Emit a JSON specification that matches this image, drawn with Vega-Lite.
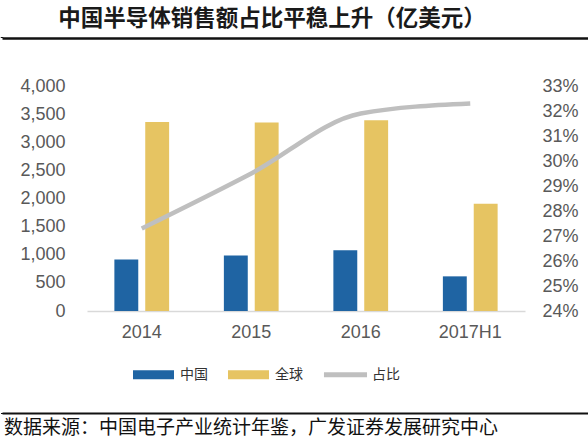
{
  "$schema": "https://vega.github.io/schema/vega-lite/v6.json",
  "background": "white",
  "padding": {"top": 7, "left": 0, "right": 0, "bottom": 0},
  "spacing": 30,
  "datasets": {
    "sales": [
      {"year": "2014", "series": "中国", "value": 917},
      {"year": "2014", "series": "全球", "value": 3358},
      {"year": "2015", "series": "中国", "value": 988},
      {"year": "2015", "series": "全球", "value": 3352},
      {"year": "2016", "series": "中国", "value": 1081},
      {"year": "2016", "series": "全球", "value": 3389},
      {"year": "2017H1", "series": "中国", "value": 616},
      {"year": "2017H1", "series": "全球", "value": 1906}
    ],
    "share": [
      {"year": "2014", "series": "占比", "share": 0.273},
      {"year": "2015", "series": "占比", "share": 0.295},
      {"year": "2016", "series": "占比", "share": 0.319},
      {"year": "2017H1", "series": "占比", "share": 0.323}
    ],
    "lines": [{"a": 0}, {"a": 1}]
  },
  "vconcat": [
    {
      "spacing": 37,
      "vconcat": [
        {
          "width": 588,
          "height": 1,
          "title": {
            "text": "中国半导体销售额占比平稳上升（亿美元）",
            "font": "Noto Sans CJK SC",
            "fontSize": 22.5,
            "fontWeight": "bold",
            "color": "#1a1a1a",
            "anchor": "middle",
            "dx": -24,
            "offset": 5.5
          },
          "data": {"name": "lines"},
          "mark": {"type": "rule", "color": "#111111", "strokeWidth": 2.5},
          "encoding": {
            "x": {
              "field": "a",
              "type": "quantitative",
              "scale": {"domain": [0, 1], "nice": false},
              "axis": {"orient": "bottom", "title": null, "labels": false, "ticks": false, "grid": false, "domain": true, "domainColor": "#111111", "domainWidth": 2.5, "offset": 0}
            }
          }
        },
        {
          "spacing": 0,
          "hconcat": [
            {
              "width": 1,
              "height": 225,
              "data": {"name": "lines"},
              "mark": {"type": "rule", "strokeOpacity": 0},
              "encoding": {}
            },
            {
              "width": 438,
              "height": 225,
              "layer": [
                {
                  "data": {"name": "sales"},
                  "mark": {"type": "bar"},
                  "encoding": {
                    "x": {
                      "field": "year",
                      "type": "nominal",
                      "sort": ["2014", "2015", "2016", "2017H1"],
                      "scale": {"paddingInner": 0.5, "paddingOuter": 0.25},
                      "axis": {
                        "title": null,
                        "labelAngle": 0,
                        "labelFontSize": 18,
                        "labelColor": "#595959",
                        "labelPadding": 12,
                        "ticks": false,
                        "domainColor": "#D9D9D9",
                        "domainWidth": 1.5
                      }
                    },
                    "xOffset": {
                      "field": "series",
                      "type": "nominal",
                      "sort": ["中国", "全球"],
                      "scale": {"paddingInner": 0.226}
                    },
                    "y": {
                      "field": "value",
                      "type": "quantitative",
                      "scale": {"domain": [0, 4000]},
                      "axis": {
                        "title": null,
                        "values": [0, 500, 1000, 1500, 2000, 2500, 3000, 3500, 4000],
                        "format": ",d",
                        "labelFontSize": 18,
                        "labelColor": "#595959",
                        "labelPadding": 22,
                        "ticks": false,
                        "domain": false,
                        "grid": false,
                        "minExtent": 84
                      }
                    },
                    "color": {
                      "field": "series",
                      "type": "nominal",
                      "scale": {
                        "domain": ["中国", "全球", "占比"],
                        "range": ["#1F64A3", "#E6C462", "#BFBFBF"]
                      },
                      "legend": {
                        "title": null,
                        "orient": "none",
                        "legendX": 46,
                        "legendY": 268,
                        "direction": "horizontal",
                        "symbolType": "M-1,-0.22H1V0.22H-1Z",
                        "symbolSize": 1681,
                        "symbolStrokeWidth": 0,
                        "labelFont": "Noto Sans CJK SC",
                        "labelFontSize": 14,
                        "labelColor": "#333333",
                        "labelOffset": 6,
                        "columnPadding": 20,
                        "encode": {
                          "symbols": {
                            "update": {
                              "shape": {"signal": "datum.value === '占比' ? 'M-1.05,-0.12H1.05V0.12H-1.05Z' : 'M-1,-0.22H1V0.22H-1Z'"},
                              "fill": {"signal": "scale('color', datum.value)"},
                              "stroke": {"value": "transparent"},
                              "opacity": {"value": 1}
                            }
                          }
                        }
                      }
                    }
                  }
                },
                {
                  "data": {"name": "share"},
                  "mark": {"type": "line", "strokeWidth": 4.5, "interpolate": "monotone"},
                  "encoding": {
                    "x": {"field": "year", "type": "nominal", "sort": ["2014", "2015", "2016", "2017H1"]},
                    "y": {
                      "field": "share",
                      "type": "quantitative",
                      "scale": {"domain": [0.24, 0.33]},
                      "axis": {
                        "orient": "right",
                        "title": null,
                        "values": [0.24, 0.25, 0.26, 0.27, 0.28, 0.29, 0.3, 0.31, 0.32, 0.33],
                        "format": ".0%",
                        "labelFontSize": 18,
                        "labelColor": "#595959",
                        "labelPadding": 17,
                        "ticks": false,
                        "domain": false,
                        "grid": false
                      }
                    },
                    "color": {"field": "series", "type": "nominal"}
                  }
                }
              ],
              "resolve": {"scale": {"y": "independent"}}
            }
          ],
          "resolve": {"legend": {"color": "independent"}}
        }
      ],
      "resolve": {"legend": {"color": "independent"}}
    },
    {
      "width": 588,
      "height": 1,
      "title": {
        "text": "数据来源：中国电子产业统计年鉴，广发证券发展研究中心",
        "orient": "bottom",
        "anchor": "start",
        "font": "Noto Sans CJK SC",
        "fontSize": 19,
        "fontWeight": "normal",
        "color": "#111111",
        "dx": 3,
        "offset": 4
      },
      "data": {"name": "lines"},
      "mark": {"type": "rule", "color": "#111111", "strokeWidth": 2},
      "encoding": {
        "x": {
          "field": "a",
          "type": "quantitative",
          "scale": {"domain": [0, 1], "nice": false},
          "axis": {"orient": "top", "title": null, "labels": false, "ticks": false, "grid": false, "domain": true, "domainColor": "#111111", "domainWidth": 2, "offset": 0}
        }
      }
    }
  ],
  "resolve": {"legend": {"color": "independent"}},
  "config": {
    "view": {"stroke": null},
    "font": "Liberation Sans"
  }
}
